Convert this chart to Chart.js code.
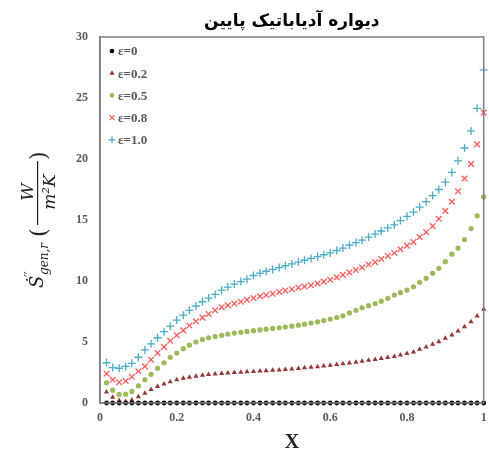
<!DOCTYPE html>
<html lang="fa">
<head>
<meta charset="UTF-8">
<title>دیواره آدیاباتیک پایین</title>
<script src="https://cdn.jsdelivr.net/npm/chart.js"></script>
<style>
  body { margin: 0; background: #fff; }
  #wrap { width: 489px; height: 450px; }
</style>
</head>
<body>
<div id="wrap"><canvas id="chart" width="489" height="450"></canvas></div>
<script>
// X positions along the wall
const xValues = [0.017,0.033,0.05,0.067,0.083,0.1,0.117,0.133,0.15,0.167,
  0.183,0.2,0.217,0.233,0.25,0.267,0.283,0.3,0.317,0.333,
  0.35,0.367,0.383,0.4,0.417,0.433,0.45,0.467,0.483,0.5,
  0.517,0.533,0.55,0.567,0.583,0.6,0.617,0.633,0.65,0.667,
  0.683,0.7,0.717,0.733,0.75,0.767,0.783,0.8,0.817,0.833,
  0.85,0.867,0.883,0.9,0.917,0.933,0.95,0.967,0.983,1.0];

// entropy generation (radiation) for each emissivity
const eps0 = [0,0,0,0,0,0,0,0,0,0, 0,0,0,0,0,0,0,0,0,0,
  0,0,0,0,0,0,0,0,0,0, 0,0,0,0,0,0,0,0,0,0,
  0,0,0,0,0,0,0,0,0,0, 0,0,0,0,0,0,0,0,0,0];
const eps02 = [0.9,0.47,0.2,0.12,0.25,0.52,0.8,1.1,1.35,1.55,
  1.75,1.9,2.02,2.12,2.2,2.27,2.33,2.38,2.42,2.46,
  2.5,2.53,2.56,2.59,2.62,2.65,2.68,2.71,2.75,2.79,
  2.83,2.88,2.93,2.98,3.04,3.1,3.16,3.22,3.28,3.35,
  3.42,3.5,3.57,3.64,3.72,3.82,3.93,4.05,4.18,4.4,
  4.6,4.82,5.03,5.3,5.57,5.9,6.26,6.67,7.13,7.68];
const eps05 = [1.65,1.05,0.7,0.72,0.95,1.4,1.9,2.35,2.85,3.3,
  3.75,4.1,4.45,4.75,5.0,5.2,5.35,5.45,5.55,5.65,
  5.73,5.8,5.87,5.93,5.99,6.05,6.11,6.17,6.23,6.3,
  6.38,6.46,6.55,6.65,6.76,6.88,7.01,7.15,7.38,7.6,
  7.8,7.98,8.15,8.35,8.58,8.85,9.04,9.26,9.53,9.89,
  10.22,10.63,11.04,11.58,12.2,12.7,13.4,14.3,15.35,16.9];
const eps08 = [2.4,1.9,1.7,1.8,2.15,2.6,3.0,3.55,4.1,4.6,
  5.1,5.55,5.95,6.35,6.7,7.0,7.3,7.6,7.85,8.0,
  8.15,8.3,8.45,8.6,8.75,8.85,8.95,9.1,9.22,9.33,
  9.45,9.55,9.65,9.8,9.95,10.1,10.3,10.5,10.7,10.9,
  11.1,11.35,11.55,11.8,12.05,12.3,12.6,12.9,13.2,13.6,
  14.0,14.5,15.1,15.75,16.5,17.35,18.4,19.6,21.2,23.8];
const eps10 = [3.3,2.9,2.85,3.0,3.25,3.75,4.35,4.85,5.35,5.85,
  6.3,6.8,7.2,7.6,7.95,8.3,8.6,8.9,9.25,9.5,
  9.75,9.95,10.15,10.45,10.65,10.8,10.95,11.1,11.25,11.4,
  11.55,11.7,11.85,12.0,12.15,12.3,12.5,12.7,12.95,13.15,
  13.35,13.6,13.85,14.1,14.35,14.6,14.95,15.3,15.65,16.05,
  16.5,17.0,17.5,18.1,18.9,19.85,20.9,22.3,24.15,27.3];

const seriesLabels = ['ε=0', 'ε=0.2', 'ε=0.5', 'ε=0.8', 'ε=1.0'];
const seriesValues = [eps0, eps02, eps05, eps08, eps10];
const seriesColors = ['#000000', '#953735', '#9BBB59', '#FF5B5B', '#4BACC6'];
const seriesStyles = ['circle', 'triangle', 'circle', 'crossRot', 'cross'];
const seriesRadius = [2.4, 3, 2.6, 4, 4];
const xTickLabels = { 0: '0', 0.2: '0.2', 0.4: '0.4', 0.6: '0.6', 0.8: '0.8', 1: '1' };

const tickFont = { family: 'Liberation Serif', size: 12, weight: 'bold' };
const greyText = '#595959';

const datasets = seriesValues.map((vals, k) => ({
    label: seriesLabels[k],
    data: xValues.map((x, i) => ({ x: x, y: vals[i] })),
    showLine: false,
    pointStyle: seriesStyles[k],
    pointRadius: seriesRadius[k],
    pointBackgroundColor: seriesColors[k],
    pointBorderColor: seriesColors[k],
    pointBorderWidth: seriesStyles[k] === 'circle' || seriesStyles[k] === 'triangle' ? 0 : 1.3,
    clip: 6
}));

// frame around the plot area
const framePlugin = {
    id: 'frame',
    afterDraw(chart) {
        const a = chart.chartArea, ctx = chart.ctx;
        ctx.save();
        ctx.strokeStyle = '#7f7f7f';
        ctx.lineWidth = 1.5;
        ctx.strokeRect(a.left, a.top, a.right - a.left, a.bottom - a.top);
        ctx.restore();
    }
};

// legend drawn inside the plot, top-left
const insideLegend = {
    id: 'insideLegend',
    afterDraw(chart) {
        const ctx = chart.ctx;
        const x0 = chart.chartArea.left + 12, y0 = chart.chartArea.top + 14;
        ctx.save();
        seriesLabels.forEach((lab, k) => {
            const y = y0 + k * 22.2;
            ctx.fillStyle = seriesColors[k];
            ctx.strokeStyle = seriesColors[k];
            ctx.lineWidth = 1.2;
            Chart.helpers.drawPoint(ctx, {
                pointStyle: seriesStyles[k],
                radius: k >= 3 ? 3.5 : (k === 1 ? 3 : 2.3),
                rotation: 0,
                borderWidth: k >= 3 ? 1.2 : 0
            }, x0, y);
            ctx.fillStyle = greyText;
            ctx.font = 'bold 13px "Liberation Serif"';
            ctx.textAlign = 'left';
            ctx.textBaseline = 'middle';
            ctx.fillText(lab, x0 + 6, y + 1);
        });
        ctx.restore();
    }
};

// y axis title: S-dot'' gen,r (W / m^2 K), rotated
const yTitlePlugin = {
    id: 'yTitle',
    afterDraw(chart) {
        const ctx = chart.ctx;
        ctx.save();
        ctx.translate(43, 288);
        ctx.rotate(-Math.PI / 2);
        ctx.fillStyle = '#222';
        ctx.textAlign = 'left';
        ctx.textBaseline = 'alphabetic';
        ctx.font = 'italic 18px "DejaVu Serif"';
        ctx.fillText('Ṡ', 0, 0);
        ctx.font = 'italic 12px "DejaVu Serif"';
        ctx.fillText('′′', 11, -9);
        ctx.fillText('gen,r', 13, 5);
        ctx.font = '22px "DejaVu Serif"';
        ctx.fillText('(', 51, 3);
        ctx.font = 'italic 17px "DejaVu Serif"';
        ctx.textAlign = 'center';
        ctx.fillText('W', 96, -10);
        ctx.fillText('m²K', 96, 12);
        ctx.fillRect(63, -6, 64, 1.2);
        ctx.textAlign = 'left';
        ctx.font = '22px "DejaVu Serif"';
        ctx.fillText(')', 128, 3);
        ctx.restore();
    }
};

new Chart(document.getElementById('chart'), {
    type: 'scatter',
    data: { datasets: datasets },
    options: {
        responsive: false,
        animation: false,
        devicePixelRatio: 1,
        layout: { padding: { left: 0, right: 3, top: 0, bottom: 0 } },
        plugins: {
            legend: { display: false },
            tooltip: { enabled: false },
            title: {
                display: true,
                fullSize: false,
                text: 'دیواره آدیاباتیک پایین',
                color: '#000',
                font: { family: 'DejaVu Sans', size: 17, weight: 'bold' },
                padding: { top: 11, bottom: 5.6 }
            }
        },
        scales: {
            x: {
                type: 'linear',
                min: 0, max: 1,
                grid: { display: false, drawTicks: false },
                border: { display: true, color: '#7f7f7f', width: 1.5 },
                ticks: {
                    stepSize: 0.2, padding: 8, font: tickFont, color: greyText, maxRotation: 0,
                    callback: v => xTickLabels[Math.round(v * 10) / 10]
                },
                title: {
                    display: true, text: 'X', color: '#222',
                    font: { family: 'Liberation Serif', size: 20, weight: 'bold', lineHeight: 1 },
                    padding: { top: 0, bottom: -3 }
                },
                afterFit(scale) {
                    scale.height = 47;
                    scale.paddingLeft = 0;
                    scale.paddingRight = 3;
                }
            },
            y: {
                type: 'linear',
                min: 0, max: 30,
                grid: { display: false, drawTicks: false },
                border: { display: true, color: '#7f7f7f', width: 1.5 },
                ticks: { stepSize: 5, padding: 12, font: tickFont, color: greyText },
                afterFit(scale) { scale.width = 100; }
            }
        }
    },
    plugins: [framePlugin, insideLegend, yTitlePlugin]
});
</script>
</body>
</html>
